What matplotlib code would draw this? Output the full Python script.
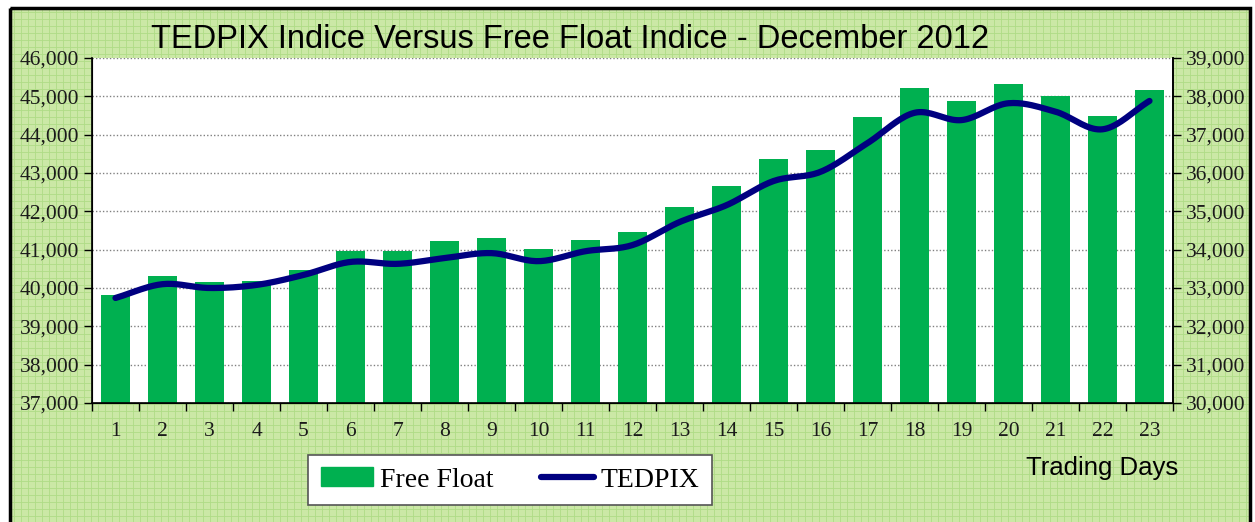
import numpy as np
import matplotlib
matplotlib.use("Agg")
import matplotlib.pyplot as plt
from matplotlib.lines import Line2D
from matplotlib.patches import Patch, Rectangle
from matplotlib.ticker import FuncFormatter, MultipleLocator

days = list(range(1, 24))
free_float = [39820, 40310, 40160, 40180, 40470, 40970, 40970, 41230, 41300, 41020,
              41250, 41460, 42110, 42660, 43370, 43600, 44460, 45220, 44880, 45330,
              45020, 44500, 45170]
tedpix = [32740, 33100, 33000, 33080, 33340, 33680, 33630, 33780, 33910, 33700,
          33960, 34120, 34720, 35160, 35790, 36030, 36780, 37570, 37380, 37820,
          37600, 37140, 37880]

BG = "#cbe8a6"
BAR = "#00b050"
LINE = "#000080"


def smooth(x, y, n=20):
    # Catmull-Rom curve through the points, like Excel's smoothed line
    x = np.asarray(x, float)
    y = np.asarray(y, float)
    px = np.r_[2 * x[0] - x[1], x, 2 * x[-1] - x[-2]]
    py = np.r_[2 * y[0] - y[1], y, 2 * y[-1] - y[-2]]
    xs, ys = [], []
    t = np.linspace(0, 1, n, endpoint=False)
    for i in range(1, len(px) - 2):
        for p, out in ((px, xs), (py, ys)):
            p0, p1, p2, p3 = p[i - 1], p[i], p[i + 1], p[i + 2]
            out.extend(0.5 * (2 * p1 + (-p0 + p2) * t
                              + (2 * p0 - 5 * p1 + 4 * p2 - p3) * t ** 2
                              + (-p0 + 3 * p1 - 3 * p2 + p3) * t ** 3))
    xs.append(x[-1])
    ys.append(y[-1])
    return np.array(xs), np.array(ys)


fig = plt.figure(figsize=(12.55, 5.22), dpi=100, facecolor="white")

# green chart-area background with fine grid pattern and black frame
bg = fig.add_axes([0, 0, 1, 1], zorder=-10)
bg.set_xlim(0, 1255)
bg.set_ylim(522, 0)
bg.axis("off")
bg.add_patch(Rectangle((10, 8), 1240, 520, fc=BG, ec="none", zorder=0))
for gx in np.arange(14, 1248, 7):
    bg.plot([gx, gx], [10, 522], color="#afdc86", lw=0.6, zorder=1)
for gy in np.arange(12, 522, 7):
    bg.plot([12, 1248], [gy, gy], color="#afdc86", lw=0.6, zorder=1)
bg.add_patch(Rectangle((10, 8), 1240, 520, fill=False, ec="black", lw=2.5, zorder=5))

ax = fig.add_axes([92 / 1255, 1 - 403 / 522, (1173 - 92) / 1255, (403 - 58) / 522])
ax.set_facecolor("white")
ax.bar(days, free_float, width=0.6, color=BAR, zorder=2)
ax.set_xlim(0.5, 23.5)
ax.set_ylim(37000, 46000)
ax.yaxis.set_major_locator(MultipleLocator(1000))
ax.grid(axis="y", color="#808080", linestyle=(0, (1, 1.5)), lw=1.0, zorder=1)
ax.set_xticks(days)
ax.set_xticks(np.arange(0.5, 24, 1), minor=True)
ax.tick_params(axis="x", which="major", length=0, pad=14)
ax.tick_params(axis="x", which="minor", length=6, width=1, direction="out")
ax.tick_params(axis="y", length=6, width=1, direction="out", pad=3)

fmt = FuncFormatter(lambda v, p: f"{v:,.0f}")
ax.yaxis.set_major_formatter(fmt)
for s in ax.spines.values():
    s.set_color("black")
    s.set_linewidth(1.2)
ax.spines["top"].set_visible(False)

ax2 = ax.twinx()
sx, sy = smooth(days, tedpix)
ax2.plot(sx, sy, color=LINE, lw=4.5, solid_capstyle="round", zorder=3)
ax2.set_ylim(30000, 39000)
ax2.yaxis.set_major_locator(MultipleLocator(1000))
ax2.yaxis.set_major_formatter(fmt)
ax2.tick_params(axis="y", length=6, width=1, direction="out", pad=3)
ax2.spines["top"].set_visible(False)
ax2.spines["right"].set_linewidth(1.2)

for a in (ax, ax2):
    for lab in a.get_yticklabels() + a.get_xticklabels():
        lab.set_fontfamily("Liberation Serif")
        lab.set_fontsize(15.5)
        lab.set_color("#1a1a1a")

fig.text(570 / 1255, 1 - 40 / 522, "TEDPIX Indice Versus Free Float Indice - December 2012",
         ha="center", va="center", fontsize=23.5, family="Liberation Sans")
fig.text(1102 / 1255, 1 - 468 / 522, "Trading Days", ha="center", va="center",
         fontsize=18.5, family="Liberation Sans")

handles = [Patch(color=BAR, label="Free Float"),
           Line2D([], [], color=LINE, lw=4.5, solid_capstyle="round", label="TEDPIX")]
leg = fig.legend(handles=handles, loc="center", ncol=2,
                 bbox_to_anchor=(510 / 1255, 1 - 480 / 522),
                 prop={"family": "Liberation Serif", "size": 20},
                 frameon=True, fancybox=False, edgecolor="#555555", facecolor="white",
                 framealpha=1, borderpad=0.45, handlelength=1.9, handleheight=0.65,
                 handletextpad=0.25, columnspacing=1.7, borderaxespad=0)
leg.get_frame().set_linewidth(1.2)

fig.savefig("out.png", dpi=100, facecolor="white")
